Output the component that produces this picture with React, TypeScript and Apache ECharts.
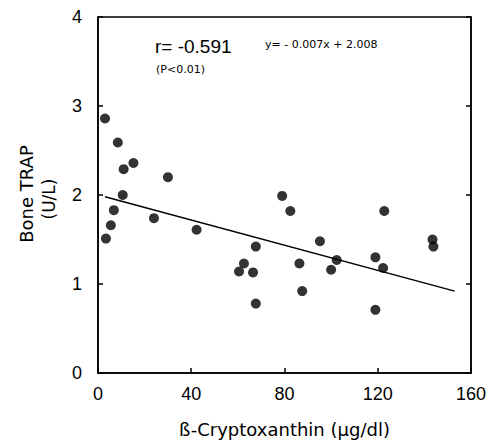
import React, { useEffect, useRef } from "react";
import * as echarts from "echarts";

const xValues = [3, 3.4, 5.5, 6.8, 8.5, 10.6, 11, 15.2, 24, 30, 42.3, 60.5, 62.6, 66.5, 67.7, 67.7, 79, 82.5, 86.4, 87.6, 95.2, 100, 102.4, 119, 119, 122.8, 122.3, 143.5, 143.9];
const yValues = [2.86, 1.51, 1.66, 1.83, 2.59, 2.0, 2.29, 2.36, 1.74, 2.2, 1.61, 1.14, 1.23, 1.13, 1.42, 0.78, 1.99, 1.82, 1.23, 0.92, 1.48, 1.16, 1.27, 1.3, 0.71, 1.82, 1.18, 1.5, 1.42];
const lineX = [3, 153];
const lineY = [1.98, 0.92];
const xTicks = [0, 40, 80, 120, 160];
const yTicks = [0, 1, 2, 3, 4];

const FONT = "Liberation Sans";
const WIDE = "DejaVu Sans";

export default function App() {
  const ref = useRef<HTMLDivElement>(null);
  useEffect(() => {
    const chart = echarts.init(ref.current!, null, { renderer: "svg" });
    const points = xValues.map((x, i) => [x, yValues[i]]);
    const line = lineX.map((x, i) => [x, lineY[i]]);
    chart.setOption({
      animation: false,
      grid: { left: 98, top: 17, width: 378, height: 360, show: true, borderColor: "#000", borderWidth: 1.5 },
      xAxis: [
        {
          type: "value",
          min: xTicks[0],
          max: xTicks[xTicks.length - 1],
          interval: 40,
          position: "bottom",
          axisLine: { lineStyle: { color: "#000", width: 1.5 } },
          axisTick: { inside: true, length: 5, lineStyle: { color: "#000", width: 1.5 } },
          splitLine: { show: false },
          axisLabel: { color: "#000", fontSize: 18, fontFamily: FONT, margin: 12 },
          name: "ß-Cryptoxanthin (μg/dl)",
          nameLocation: "middle",
          nameGap: 47,
          nameTextStyle: { color: "#000", fontSize: 18, fontFamily: WIDE },
        },
      ],
      yAxis: [
        {
          type: "value",
          min: yTicks[0],
          max: yTicks[yTicks.length - 1],
          interval: 1,
          position: "left",
          axisLine: { show: true, lineStyle: { color: "#000", width: 1.5 } },
          axisTick: { show: true, inside: true, length: 5, lineStyle: { color: "#000", width: 1.5 } },
          splitLine: { show: false },
          axisLabel: { color: "#000", fontSize: 18, fontFamily: FONT, margin: 16 },
        },
        {
          type: "value",
          min: yTicks[0],
          max: yTicks[yTicks.length - 1],
          interval: 1,
          position: "right",
          axisLine: { show: true, lineStyle: { color: "#000", width: 1.5 } },
          axisTick: { show: true, inside: true, length: 5, lineStyle: { color: "#000", width: 1.5 } },
          splitLine: { show: false },
          axisLabel: { show: false },
        },
      ],
      graphic: [
        { type: "text", x: 26, y: 194, rotation: Math.PI / 2, style: { text: "Bone TRAP", fontSize: 18, fontFamily: WIDE, fill: "#000", align: "center", verticalAlign: "middle" } },
        { type: "text", x: 49, y: 199, rotation: Math.PI / 2, style: { text: "(U/L)", fontSize: 17, fontFamily: WIDE, fill: "#000", align: "center", verticalAlign: "middle" } },
        { type: "text", x: 155, y: 46, style: { text: "r= -0.591", fontSize: 19, fontFamily: FONT, fill: "#000", align: "left", verticalAlign: "middle" } },
        { type: "text", x: 156, y: 69, style: { text: "(P<0.01)", fontSize: 11, fontFamily: WIDE, fill: "#000", align: "left", verticalAlign: "middle" } },
        { type: "text", x: 265, y: 44, style: { text: "y= - 0.007x + 2.008", fontSize: 11, fontFamily: WIDE, fill: "#000", align: "left", verticalAlign: "middle" } },
      ],
      series: [
        {
          type: "scatter",
          data: points,
          symbol: "circle",
          symbolSize: 10,
          itemStyle: { color: "#000" },
        },
        {
          type: "line",
          data: line,
          symbol: "none",
          lineStyle: { color: "#000", width: 1.5 },
        },
      ],
    });
    return () => chart.dispose();
  }, []);
  return <div ref={ref} style={{ position: "fixed", left: 0, top: 0, width: 489, height: 443, background: "#fff" }} />;
}
